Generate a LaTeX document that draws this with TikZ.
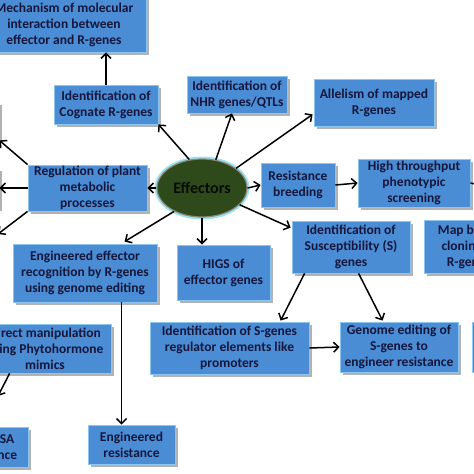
\documentclass[tikz,border=0pt]{standalone}
\usepackage{fontspec}
\setmainfont{Carlito}
\usetikzlibrary{shapes.geometric,shadows,arrows.meta,calc}
\definecolor{boxblue}{HTML}{4A8DD4}
\definecolor{boxedge}{HTML}{8CC6F0}
\definecolor{txtnavy}{HTML}{16163C}
\definecolor{effgreen}{HTML}{2E4A1B}
\definecolor{effedge}{HTML}{8A8878}
\definecolor{effglow}{HTML}{9FE2F4}
\begin{document}
\begin{tikzpicture}[x=1pt,y=-1pt,
  bx/.style={rectangle, fill=boxblue, draw=boxedge, line width=0.8pt,
    inner sep=0pt, align=center, text=txtnavy,
    font=\fontsize{13.5}{16}\selectfont\bfseries,
    drop shadow={shadow xshift=2.5pt, shadow yshift=-3pt, fill=black!55, opacity=0.55}},
  arr/.style={draw=black, line width=1.5pt, -{Straight Barb[length=5pt,width=10pt]}}]
\useasboundingbox (0,0) rectangle (474,474);
\fill[white] (0,0) rectangle (474,474);
\clip (0,0) rectangle (474,474);

% boxes
\node[bx, minimum width=164, minimum height=55] (mech) at (64,24.5) {Mechanism of molecular\\interaction between\\effector and R-genes};
\node[bx, minimum width=104, minimum height=39] (cognate) at (106,104.5) {Identification of\\Cognate R-genes};
\node[bx, minimum width=100, minimum height=37] (nhr) at (237,94.5) {Identification of\\NHR genes/QTLs};
\node[bx, minimum width=120, minimum height=47] (allel) at (374,102.5) {Allelism of mapped\\R-genes};
\node[bx, minimum width=119, minimum height=46] (regul) at (87.5,188) {Regulation of plant\\metabolic\\processes};
\node[bx, minimum width=74, minimum height=44] (resist) at (298,185) {Resistance\\breeding};
\node[bx, minimum width=112, minimum height=48] (hts) at (414,183) {High throughput\\phenotypic\\screening};
\node[bx, minimum width=118, minimum height=52] (suscept) at (351,247) {Identification of\\Susceptibility (S)\\genes};
\node[bx, minimum width=90, minimum height=53] (map) at (469,246.5) {Map based\\cloning of\\R-genes};
\node[bx, minimum width=118, minimum height=50] (genome) at (399,347) {Genome editing of\\S-genes to\\engineer resistance};
\node[bx, minimum width=98, minimum height=50] (rcut) at (521,347) {};
\node[bx, minimum width=159, minimum height=52] (sreg) at (229.5,348) {Identification of S-genes\\regulator elements like\\promoters};
\node[bx, minimum width=93, minimum height=55] (higs) at (223.5,272.5) {HIGS of\\effector genes};
\node[bx, minimum width=144, minimum height=58] (engeff) at (85,273) {Engineered effector\\recognition by R-genes\\using genome editing};
\node[bx, minimum width=87, minimum height=39] (engres) at (131.5,444.5) {Engineered\\resistance};
\node[bx, minimum width=132, minimum height=49] (direct) at (45,348.5) {Direct manipulation\\using Phytohormone\\mimics};
\node[bx, minimum width=78, minimum height=40] (jasa) at (-11,447) {ET/JA/SA\\resistance};
\node[bx, minimum width=99, minimum height=38] (lefttop) at (-50.5,121) {};
\node[bx, minimum width=99, minimum height=40] (leftmid) at (-50.5,188) {};
\coordinate (leftbot) at (-2,234);
\coordinate (rightend) at (480,185);
\coordinate (dirend) at (-2,396);
\coordinate (eestart) at ($(engeff.south west)+(109pt,0)$);
\coordinate (eeend) at (eestart |- engres.north);

% central ellipse
\node[ellipse, minimum width=90, minimum height=58, inner sep=0pt,
  fill=effgreen, draw=effedge, line width=1.2pt,
  preaction={draw=effglow, line width=5pt},
  text=black!85!effgreen, font=\fontsize{16}{18}\selectfont\bfseries] (eff) at (202,188) {Effectors};

% connectors
\draw[arr] (cognate.north) -- (cognate.north |- mech.south);
\draw[arr] (eff.114) -- (cognate.south east);
\draw[arr] (eff.64) -- ($(nhr.south west)!0.45!(nhr.south east)$);
\draw[arr] (eff.30) -- ($(allel.south west)+(-1pt,12pt)$);
\draw[arr] (eff.east) -- (resist.west);
\draw[arr] (resist.east) -- (hts.west);
\draw[line width=1.5pt] (hts.east) -- (rightend);
\draw[arr] (eff.-24) -- ($(suscept.north west)+(-1pt,-7pt)$);
\draw[arr] (eff.south) -- (eff.south |- higs.north);
\draw[arr] (eff.-140) -- ($(engeff.north west)+(112pt,2pt)$);
\draw[arr] (eff.west) -- (regul.east);
\draw[arr] (regul.north west) -- (lefttop.south east);
\draw[arr] (regul.west) -- (leftmid.east |- regul.west);
\draw[arr] (regul.south west) -- (leftbot);
\draw[arr] ($(suscept.south west)+(13pt,0)$) -- ($(sreg.north west)+(131pt,1pt)$);
\draw[arr] ($(suscept.south west)+(67pt,0)$) -- ($(genome.north west)+(43pt,1pt)$);
\draw[arr] (sreg.east) -- (genome.west);
\draw[arr] (eestart) -- (eeend);
\draw[arr] ($(direct.south west)+(31pt,0)$) -- (dirend);
\end{tikzpicture}
\end{document}
